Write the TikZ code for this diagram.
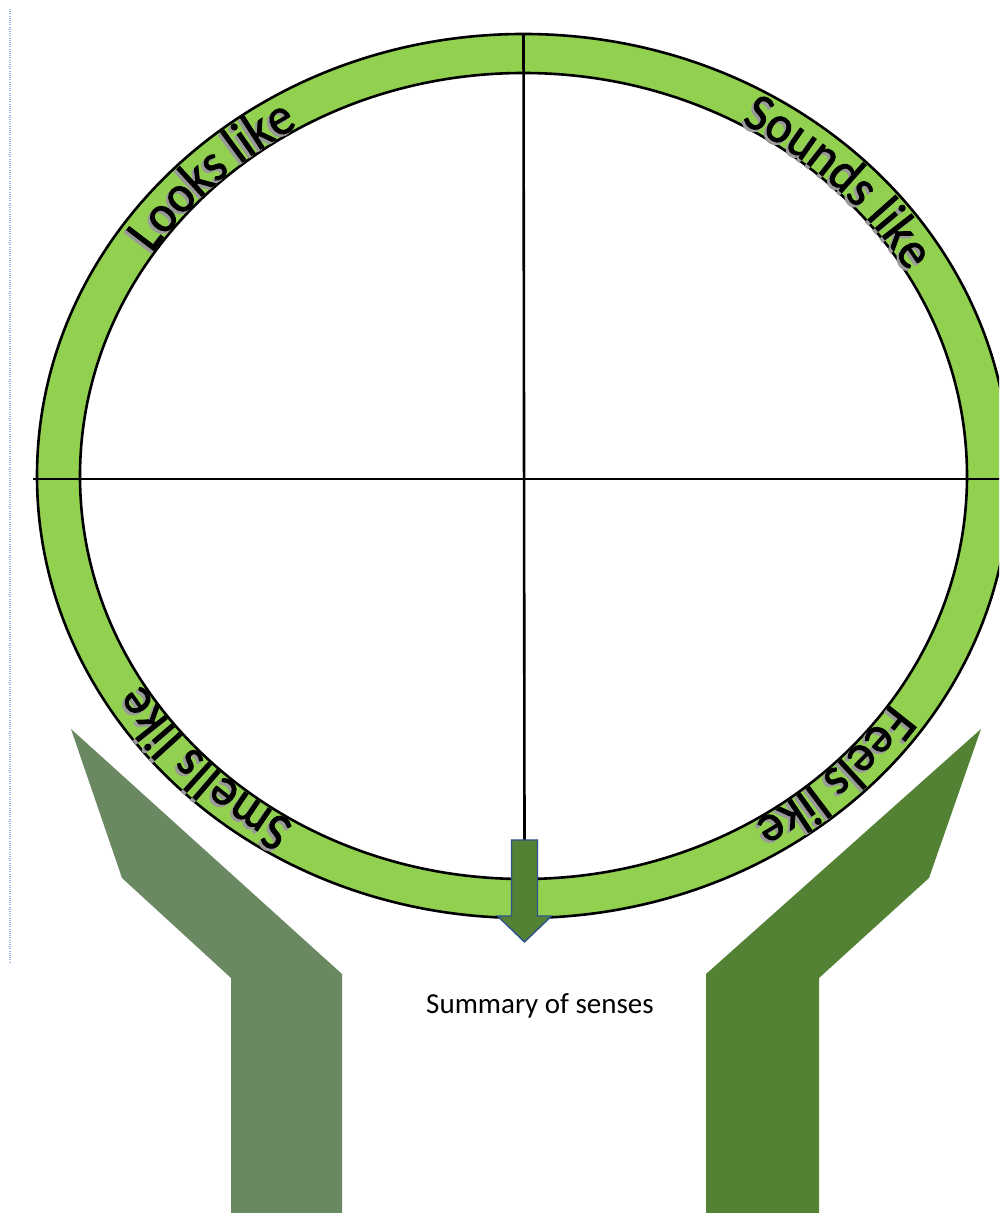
\documentclass[tikz,border=0pt]{standalone}
\usepackage{fontspec}
\setmainfont{Carlito}
\newfontfamily\arcfont{Carlito}[FakeStretch=0.93, FakeBold=1.6]
\usetikzlibrary{calc,decorations.text}
\definecolor{ringgreen}{RGB}{146,208,80}
\definecolor{leftleg}{RGB}{106,137,98}
\definecolor{rightleg}{RGB}{84,130,53}
\definecolor{arrowblue}{RGB}{47,82,143}
\definecolor{dotblue}{RGB}{150,185,240}
\tikzset{
  ringline/.style={draw=black, line width=2.6pt},
  axisline/.style={draw=black, line width=2.6pt},
  arctext/.style={decorate, decoration={text along path, text align=center, text color=#1}},
  arctext/.default=black,
}
\newcommand{\arcfnt}{\arcfont\fontsize{53}{53}\selectfont}
\begin{document}
\begin{tikzpicture}[x=1pt,y=1pt]
\clip (0,0) rectangle (999,1213);
\fill[white] (0,0) rectangle (999,1213);
% page margin dotted line
\coordinate (d1) at (10,1204);
\coordinate (d2) at (10,250);
\draw[dotblue, line width=1.6pt, dash pattern=on 1pt off 1.2pt] (d1) -- (d2);
% centre of the ring
\coordinate (c) at (523.5,737);
% ring
\fill[ringgreen, even odd rule] (c) ellipse[x radius=486.5pt, y radius=442pt]
                                (c) ellipse[x radius=443.5pt, y radius=403pt];
\draw[ringline] (c) ellipse[x radius=486.5pt, y radius=442pt];
\draw[ringline] (c) ellipse[x radius=443.5pt, y radius=403pt];
% axes
\coordinate (hl) at (33,734);
\coordinate (hr) at (1005,734);
\coordinate (vt) at (523.5,1179);
\draw[axisline] (hl) -- (hr);
% legs
\fill[leftleg] (71,484) -- (122,335) -- (231,235) -- (231,-2) -- (342,-2) -- (342,239) -- cycle;
\fill[rightleg] (981,484) -- (929,335) -- (819,235) -- (819,-2) -- (706,-2) -- (706,239) -- cycle;
% summary arrow
\node[inner sep=0pt, minimum width=26pt, minimum height=1pt] (arrow) at (524.5,373) {};
\draw[axisline] (vt) -- (arrow.center);
\filldraw[fill=rightleg, draw=arrowblue, line width=1.4pt, line join=miter]
  (511.5,373) -- (537.5,373) -- (537.5,297) -- (551.5,297) -- (524.5,271)
  -- (497.5,297) -- (511.5,297) -- cycle;
% summary text
\node[font=\fontsize{29}{29}\selectfont, inner sep=0pt] (summary) at (540,207) {Summary of senses};
% curved labels (shadow then text)
\foreach \ang/\sa/\ea/\txt in {a/162/106/Looks like, b/75/15/Sounds like, c/252/197/Smells like, d/-18/-74/Feels like}{
  \path[arctext=black!40] ($(c)+(-2.5,-2.5)+(\sa:445pt and 405pt)$)
     arc[start angle=\sa, end angle=\ea, x radius=445pt, y radius=405pt]
     [decoration={text={|\arcfnt|\txt}}];
  \path[arctext=black] ($(c)+(\sa:445pt and 405pt)$)
     arc[start angle=\sa, end angle=\ea, x radius=445pt, y radius=405pt]
     [decoration={text={|\arcfnt|\txt}}];
}
\end{tikzpicture}
\end{document}
